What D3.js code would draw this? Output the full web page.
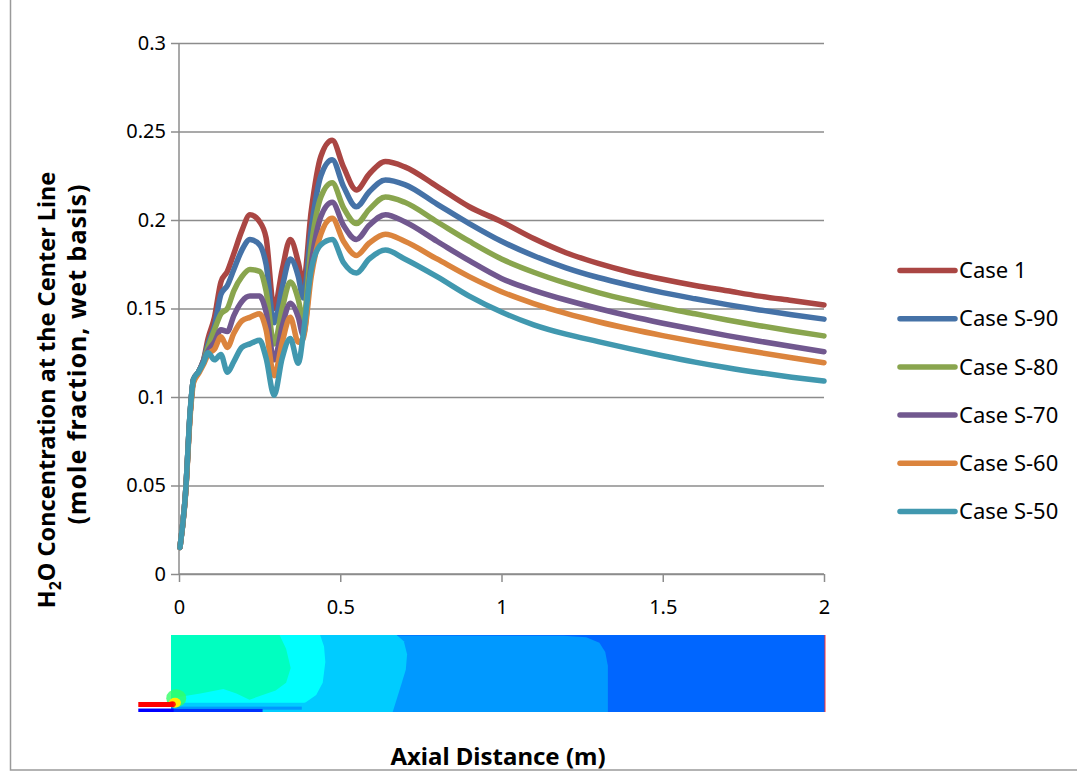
<!DOCTYPE html>
<html>
<head>
<meta charset="utf-8">
<script src="https://cdn.jsdelivr.net/npm/d3@7"></script>
<style>
  body { margin: 0; background: #fff; }
  svg { display: block; font-family: 'Noto Sans', sans-serif; }
</style>
</head>
<body>
<div id="chart"></div>
<script>
(function() {

  'use strict'

  // axial distance (m)
  var distance = [0.003, 0.02, 0.035, 0.045, 0.06, 0.075, 0.09, 0.11, 0.13, 0.15, 0.17, 0.195, 0.22, 0.25, 0.27,
    0.295, 0.32, 0.345, 0.37, 0.385, 0.41, 0.44, 0.475, 0.51, 0.55, 0.59, 0.64, 0.7, 0.8, 0.9,
    1.0, 1.1, 1.2, 1.3, 1.4, 1.5, 1.6, 1.7, 1.8, 1.9, 2.0];

  var case1 = [0.015, 0.045, 0.092, 0.110, 0.114, 0.120, 0.133, 0.145, 0.165, 0.171, 0.181, 0.194, 0.203, 0.199, 0.190,
    0.150, 0.172, 0.189, 0.176, 0.164, 0.205, 0.236, 0.245, 0.230, 0.217, 0.226, 0.233, 0.230, 0.219, 0.2075,
    0.199, 0.1895, 0.1815, 0.1755, 0.1705, 0.1665, 0.163, 0.160, 0.157, 0.1545, 0.152];

  var caseS90 = [0.015, 0.045, 0.092, 0.110, 0.114, 0.120, 0.130, 0.140, 0.158, 0.163, 0.172, 0.183, 0.189, 0.186, 0.175,
    0.142, 0.162, 0.178, 0.168, 0.156, 0.195, 0.225, 0.234, 0.219, 0.2075, 0.216, 0.2226, 0.220, 0.209, 0.198,
    0.188, 0.1798, 0.173, 0.1675, 0.163, 0.159, 0.1555, 0.1522, 0.1492, 0.1465, 0.144];

  var caseS80 = [0.015, 0.045, 0.092, 0.110, 0.114, 0.120, 0.128, 0.138, 0.147, 0.150, 0.160, 0.168, 0.172, 0.171, 0.160,
    0.130, 0.150, 0.165, 0.155, 0.1435, 0.185, 0.213, 0.221, 0.207, 0.198, 0.206, 0.213, 0.210, 0.199, 0.188,
    0.178, 0.1705, 0.1643, 0.159, 0.1545, 0.1505, 0.147, 0.1435, 0.1403, 0.1373, 0.1345];

  var caseS70 = [0.015, 0.045, 0.092, 0.110, 0.114, 0.120, 0.126, 0.131, 0.138, 0.137, 0.146, 0.154, 0.157, 0.157, 0.148,
    0.121, 0.140, 0.153, 0.145, 0.135, 0.175, 0.202, 0.210, 0.197, 0.189, 0.197, 0.203, 0.199, 0.188, 0.177,
    0.167, 0.1603, 0.1548, 0.150, 0.1456, 0.1417, 0.1381, 0.1347, 0.1315, 0.1285, 0.1256];

  var caseS60 = [0.015, 0.044, 0.090, 0.108, 0.113, 0.118, 0.124, 0.127, 0.134, 0.128, 0.136, 0.143, 0.145, 0.147, 0.138,
    0.112, 0.131, 0.145, 0.131, 0.133, 0.168, 0.192, 0.201, 0.188, 0.180, 0.187, 0.192, 0.188, 0.178, 0.168,
    0.1595, 0.1528, 0.1472, 0.1425, 0.1384, 0.1347, 0.1313, 0.1281, 0.1251, 0.1222, 0.1194];

  var caseS50 = [0.015, 0.045, 0.093, 0.110, 0.114, 0.119, 0.125, 0.121, 0.124, 0.114, 0.120, 0.128, 0.130, 0.132, 0.122,
    0.101, 0.122, 0.133, 0.119, 0.135, 0.172, 0.186, 0.189, 0.176, 0.170, 0.178, 0.183, 0.178, 0.168, 0.157,
    0.148, 0.1408, 0.1355, 0.1313, 0.1272, 0.1233, 0.1197, 0.1165, 0.1137, 0.1112, 0.109];

  var seriesNames = ['Case 1', 'Case S-90', 'Case S-80', 'Case S-70', 'Case S-60', 'Case S-50'];
  var seriesValues = [case1, caseS90, caseS80, caseS70, caseS60, caseS50];
  var seriesColors = ['#AA4643', '#4572A7', '#89A54E', '#71588F', '#DB843D', '#4198AF'];

  var xTicks = [0, 0.5, 1, 1.5, 2];
  var yTicks = [0, 0.05, 0.1, 0.15, 0.2, 0.25, 0.3];

  var width = 1077;
  var height = 771;
  var plot = { left: 179, right: 824, top: 43, bottom: 574 };
  var gridColor = '#8c8c8c';
  var textColor = '#000';
  var fontFamily = '\'Noto Sans\', sans-serif';

  var svg = d3.select('#chart').append('svg')
    .attr('width', width)
    .attr('height', height);

  // outer chart frame (only left and bottom edges are inside the picture)
  svg.append('rect')
    .attr('x', 10.5)
    .attr('y', -5)
    .attr('width', width + 20)
    .attr('height', 775)
    .style('fill', 'none')
    .style('stroke', '#9a9a9a')
    .style('stroke-width', 1.5);

  var x = d3.scaleLinear().domain([0, 2]).range([plot.left, plot.right]);
  var y = d3.scaleLinear().domain([0, 0.3]).range([plot.bottom, plot.top]);

  // gridlines
  svg.append('g')
    .attr('transform', 'translate(' + plot.left + ',0)')
    .call(d3.axisLeft(y).tickValues(yTicks).tickSize(-(plot.right - plot.left)).tickFormat(''))
    .call(function(g) {
      g.select('.domain').remove();
      g.selectAll('line').style('stroke', gridColor).style('stroke-width', 1.5);
    });

  // y axis
  svg.append('g')
    .attr('transform', 'translate(' + plot.left + ',0)')
    .call(d3.axisLeft(y).tickValues(yTicks).tickSize(8).tickPadding(5).tickFormat(function(d) { return String(d); }))
    .call(function(g) {
      g.select('.domain').attr('d', 'M0,' + plot.bottom + 'V' + plot.top)
        .style('stroke', gridColor).style('stroke-width', 1.5);
      g.selectAll('line').style('stroke', gridColor).style('stroke-width', 1.5);
      g.selectAll('text').style('font-size', '20px').style('fill', textColor)
        .style('font-family', fontFamily);
    });

  // x axis
  svg.append('g')
    .attr('transform', 'translate(0,' + plot.bottom + ')')
    .call(d3.axisBottom(x).tickValues(xTicks).tickSize(8).tickPadding(18).tickFormat(function(d) { return String(d); }))
    .call(function(g) {
      g.select('.domain').attr('d', 'M' + plot.left + ',0H' + plot.right)
        .style('stroke', gridColor).style('stroke-width', 1.5);
      g.selectAll('line').style('stroke', gridColor).style('stroke-width', 1.5);
      g.selectAll('text').style('font-size', '20px').style('fill', textColor)
        .style('font-family', fontFamily);
    });

  // series
  var line = d3.line()
    .x(function(d, i) { return x(distance[i]); })
    .y(function(d) { return y(d); })
    .curve(d3.curveMonotoneX);

  svg.append('g').selectAll('path')
    .data(seriesValues)
    .enter().append('path')
    .attr('d', line)
    .style('fill', 'none')
    .style('stroke', function(d, i) { return seriesColors[i]; })
    .style('stroke-width', 5.5)
    .style('stroke-linejoin', 'round')
    .style('stroke-linecap', 'round');

  // legend
  var legend = svg.append('g').selectAll('g')
    .data(seriesNames)
    .enter().append('g')
    .attr('transform', function(d, i) { return 'translate(900,' + (270.5 + i * 48.2) + ')'; });

  legend.append('line')
    .attr('x1', 0)
    .attr('x2', 55)
    .style('stroke', function(d, i) { return seriesColors[i]; })
    .style('stroke-width', 5.5)
    .style('stroke-linecap', 'round');

  legend.append('text')
    .attr('x', 59)
    .attr('dy', '0.35em')
    .style('font-size', '22px')
    .style('fill', textColor)
    .text(String);

  // y axis title
  var yTitle = svg.append('text')
    .attr('transform', 'translate(55,390) rotate(-90)')
    .attr('text-anchor', 'middle')
    .style('font-size', '23.5px')
    .style('font-weight', 'bold')
    .style('fill', textColor);
  yTitle.append('tspan').text('H');
  yTitle.append('tspan').attr('dy', 6).style('font-size', '16px').text('2');
  yTitle.append('tspan').attr('dy', -6).text('O Concentration at the Center Line');

  svg.append('text')
    .attr('transform', 'translate(86,354) rotate(-90)')
    .attr('text-anchor', 'middle')
    .style('font-size', '25px')
    .style('letter-spacing', '1px')
    .style('font-weight', 'bold')
    .style('fill', textColor)
    .text('(mole fraction, wet basis)');

  // x axis title
  svg.append('text')
    .attr('x', 498)
    .attr('y', 765)
    .attr('text-anchor', 'middle')
    .style('font-size', '24px')
    .style('font-weight', 'bold')
    .style('fill', textColor)
    .text('Axial Distance (m)');

  // contour picture of the combustor below the axis (drawn in strip units 0..1)
  var sx = d3.scaleLinear().domain([0, 1]).range([171, 825]);
  var sy = d3.scaleLinear().domain([0, 1]).range([635, 712]);
  var strip = svg.append('g');

  var zones = [
    { fill: '#0066FF', pts: [[0, 0], [1, 0], [1, 1], [0, 1]] },
    { fill: '#0099FF', pts: [[0, 0], [0.6, 0.01], [0.635, 0.03], [0.655, 0.1], [0.664, 0.22], [0.668, 0.4], [0.668, 1], [0, 1]] },
    { fill: '#00CCFF', pts: [[0, 0], [0.345, 0], [0.356, 0.08], [0.361, 0.25], [0.359, 0.45], [0.35, 0.7], [0.339, 1], [0, 1]] },
    { fill: '#00FFFF', pts: [[0, 0], [0.228, 0], [0.234, 0.15], [0.236, 0.35], [0.232, 0.62], [0.222, 0.78], [0.205, 0.88], [0.185, 0.92], [0.1, 0.9], [0, 0.9]] },
    { fill: '#00FFC0', pts: [[0, 0], [0.166, 0], [0.176, 0.18], [0.183, 0.43], [0.176, 0.62], [0.16, 0.72], [0.12, 0.84], [0.1, 0.76], [0.08, 0.7], [0.045, 0.76], [0, 0.82]] }
  ];

  var zonePath = d3.line()
    .x(function(p) { return sx(p[0]); })
    .y(function(p) { return sy(p[1]); })
    .curve(d3.curveLinearClosed);

  zones.forEach(function(z) {
    strip.append('path')
      .attr('d', zonePath(z.pts))
      .style('fill', z.fill);
  });

  // thin bands near the wall at the bottom left
  strip.append('rect').attr('x', sx(0)).attr('y', sy(0.88)).attr('width', sx(0.25) - sx(0)).attr('height', sy(0.94) - sy(0.88)).style('fill', '#00CCFF');
  strip.append('rect').attr('x', sx(0)).attr('y', sy(0.93)).attr('width', sx(0.2) - sx(0)).attr('height', sy(0.97) - sy(0.93)).style('fill', '#0099FF');
  strip.append('rect').attr('x', sx(0)).attr('y', sy(0.96)).attr('width', sx(0.14) - sx(0)).attr('height', sy(1) - sy(0.96)).style('fill', '#0033FF');

  // hot spot at the inlet
  strip.append('ellipse').attr('cx', sx(0.008)).attr('cy', sy(0.82)).attr('rx', 10).attr('ry', 9).style('fill', '#33FF66').style('opacity', 0.8);
  strip.append('ellipse').attr('cx', sx(0.006)).attr('cy', sy(0.88)).attr('rx', 6).attr('ry', 5).style('fill', '#FFEE00');
  strip.append('ellipse').attr('cx', sx(0.002)).attr('cy', sy(0.9)).attr('rx', 3.5).attr('ry', 3).style('fill', '#FF2200');

  // inlet pipes
  strip.append('rect').attr('x', sx(-0.05)).attr('y', sy(0.87)).attr('width', sx(0.004) - sx(-0.05)).attr('height', sy(0.935) - sy(0.87)).style('fill', '#FF0000');
  strip.append('rect').attr('x', sx(-0.05)).attr('y', sy(0.955)).attr('width', sx(0.004) - sx(-0.05)).attr('height', sy(1.0) - sy(0.955)).style('fill', '#0000FF');

  // outlet edge
  strip.append('line').attr('x1', sx(1)).attr('x2', sx(1)).attr('y1', sy(0)).attr('y2', sy(1))
    .style('stroke', '#FF3030').style('stroke-width', 1);

})();
</script>
</body>
</html>
